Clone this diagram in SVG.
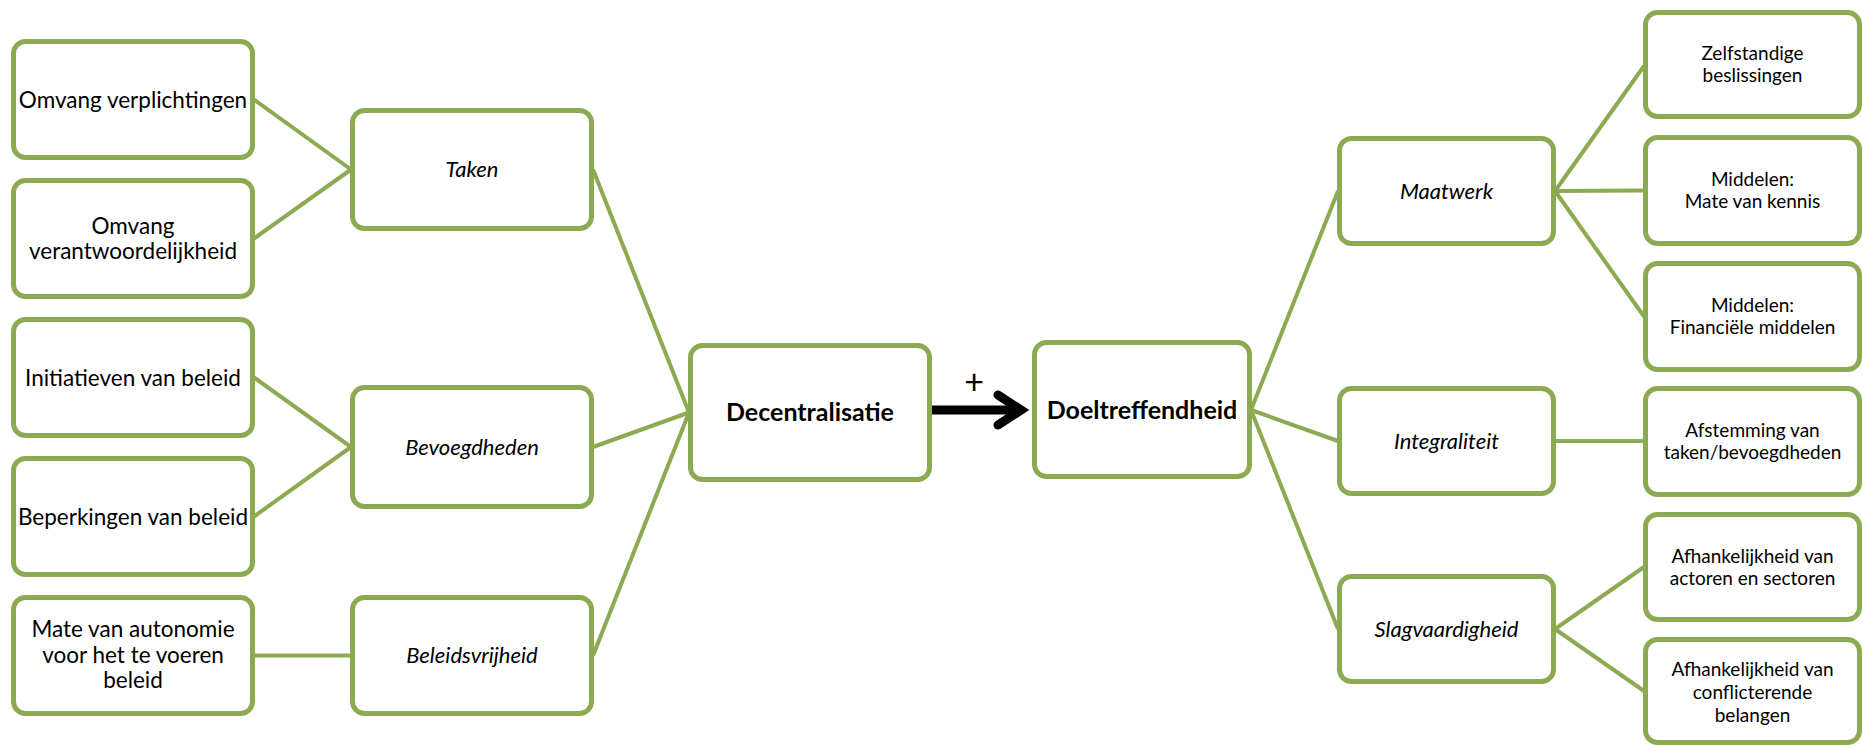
<svg xmlns="http://www.w3.org/2000/svg" width="1863" height="745" viewBox="0 0 1863 745">
  <style>
    .box { fill: #ffffff; stroke: #8caa52; stroke-width: 5; }
    .link { stroke: #8caa52; stroke-width: 4; fill: none; }
    .t { font-family: Lato, "Liberation Sans", sans-serif; fill: #000000; text-anchor: middle; }
    .l { font-size: 22.5px; }
    .s { font-size: 19px; }
    .i { font-size: 22px; font-style: italic; }
    .b { font-size: 25px; font-weight: bold; }
  </style>
  <rect width="1863" height="745" fill="#ffffff"/>

  <!-- connectors -->
  <g id="connectors">
    <line class="link" x1="254" y1="99.5" x2="351" y2="169.5"/>
    <line class="link" x1="254" y1="238.5" x2="351" y2="169.5"/>
    <line class="link" x1="254" y1="377.5" x2="351" y2="447"/>
    <line class="link" x1="254" y1="516.5" x2="351" y2="447"/>
    <line class="link" x1="254" y1="655.5" x2="351" y2="655.5"/>
    <line class="link" x1="593" y1="169.5" x2="689" y2="412.5"/>
    <line class="link" x1="593" y1="447" x2="689" y2="412.5"/>
    <line class="link" x1="593" y1="655.5" x2="689" y2="412.5"/>
    <line class="link" x1="1251" y1="410" x2="1338" y2="191"/>
    <line class="link" x1="1251" y1="410" x2="1338" y2="441"/>
    <line class="link" x1="1251" y1="410" x2="1338" y2="629"/>
    <line class="link" x1="1555" y1="191" x2="1644" y2="66"/>
    <line class="link" x1="1555" y1="191" x2="1644" y2="190.5"/>
    <line class="link" x1="1555" y1="191" x2="1644" y2="316.5"/>
    <line class="link" x1="1555" y1="441" x2="1644" y2="441"/>
    <line class="link" x1="1555" y1="629" x2="1644" y2="567"/>
    <line class="link" x1="1555" y1="629" x2="1644" y2="691"/>
    <!-- positive causal arrow -->
    <line x1="932" y1="410" x2="1021" y2="410" stroke="#000000" stroke-width="9"/>
    <polyline points="998,395 1021,410 998,425" fill="none" stroke="#000000" stroke-width="9" stroke-linecap="round" stroke-linejoin="miter"/>
    <text class="t" x="974" y="394" font-size="34">+</text>
  </g>

  <!-- left column -->
  <g id="omvang-verplichtingen">
    <rect class="box" x="13.5" y="41.5" width="239" height="116" rx="12"/>
    <text class="t l" x="133" y="107.5">Omvang verplichtingen</text>
  </g>
  <g id="omvang-verantwoordelijkheid">
    <rect class="box" x="13.5" y="180.5" width="239" height="116" rx="12"/>
    <text class="t l" x="133" y="233.5">Omvang<tspan x="133" dy="25">verantwoordelijkheid</tspan></text>
  </g>
  <g id="initiatieven">
    <rect class="box" x="13.5" y="319.5" width="239" height="116" rx="12"/>
    <text class="t l" x="133" y="385.5">Initiatieven van beleid</text>
  </g>
  <g id="beperkingen">
    <rect class="box" x="13.5" y="458.5" width="239" height="116" rx="12"/>
    <text class="t l" x="133" y="524.5">Beperkingen van beleid</text>
  </g>
  <g id="autonomie">
    <rect class="box" x="13.5" y="597.5" width="239" height="116" rx="12"/>
    <text class="t l" x="133" y="637">Mate van autonomie<tspan x="133" dy="25.5">voor het te voeren</tspan><tspan x="133" dy="25.5">beleid</tspan></text>
  </g>

  <!-- dimensions of decentralisation -->
  <g id="taken">
    <rect class="box" x="352.5" y="110.5" width="239" height="118" rx="12"/>
    <text class="t i" x="472" y="177">Taken</text>
  </g>
  <g id="bevoegdheden">
    <rect class="box" x="352.5" y="387.5" width="239" height="119" rx="12"/>
    <text class="t i" x="472" y="454.5">Bevoegdheden</text>
  </g>
  <g id="beleidsvrijheid">
    <rect class="box" x="352.5" y="597.5" width="239" height="116" rx="12"/>
    <text class="t i" x="472" y="663">Beleidsvrijheid</text>
  </g>

  <!-- central concepts -->
  <g id="decentralisatie">
    <rect class="box" x="690.5" y="345.5" width="239" height="134" rx="12"/>
    <text class="t b" x="810" y="421">Decentralisatie</text>
  </g>
  <g id="doeltreffendheid">
    <rect class="box" x="1034.5" y="342.5" width="215" height="134" rx="12"/>
    <text class="t b" x="1142" y="418.5">Doeltreffendheid</text>
  </g>

  <!-- dimensions of effectiveness -->
  <g id="maatwerk">
    <rect class="box" x="1339.5" y="138.5" width="214" height="105" rx="12"/>
    <text class="t i" x="1446.5" y="198.5">Maatwerk</text>
  </g>
  <g id="integraliteit">
    <rect class="box" x="1339.5" y="388.5" width="214" height="105" rx="12"/>
    <text class="t i" x="1446.5" y="448.5">Integraliteit</text>
  </g>
  <g id="slagvaardigheid">
    <rect class="box" x="1339.5" y="576.5" width="214" height="105" rx="12"/>
    <text class="t i" x="1446.5" y="636.5">Slagvaardigheid</text>
  </g>

  <!-- right column -->
  <g id="zelfstandige-beslissingen">
    <rect class="box" x="1645.5" y="12.5" width="214" height="104" rx="12"/>
    <text class="t s" x="1752.5" y="60">Zelfstandige<tspan x="1752.5" dy="22">beslissingen</tspan></text>
  </g>
  <g id="middelen-kennis">
    <rect class="box" x="1645.5" y="137.5" width="214" height="106" rx="12"/>
    <text class="t s" x="1752.5" y="186">Middelen:<tspan x="1752.5" dy="22">Mate van kennis</tspan></text>
  </g>
  <g id="middelen-financieel">
    <rect class="box" x="1645.5" y="263.5" width="214" height="106" rx="12"/>
    <text class="t s" x="1752.5" y="312">Middelen:<tspan x="1752.5" dy="22">Financiële middelen</tspan></text>
  </g>
  <g id="afstemming">
    <rect class="box" x="1645.5" y="388.5" width="214" height="106" rx="12"/>
    <text class="t s" x="1752.5" y="437">Afstemming van<tspan x="1752.5" dy="22">taken/bevoegdheden</tspan></text>
  </g>
  <g id="afhankelijkheid-actoren">
    <rect class="box" x="1645.5" y="514.5" width="214" height="105" rx="12"/>
    <text class="t s" x="1752.5" y="562.5">Afhankelijkheid van<tspan x="1752.5" dy="22">actoren en sectoren</tspan></text>
  </g>
  <g id="afhankelijkheid-belangen">
    <rect class="box" x="1645.5" y="639.5" width="214" height="103" rx="12"/>
    <text class="t s" x="1752.5" y="675.5">Afhankelijkheid van<tspan x="1752.5" dy="23">conflicterende</tspan><tspan x="1752.5" dy="23">belangen</tspan></text>
  </g>
</svg>
